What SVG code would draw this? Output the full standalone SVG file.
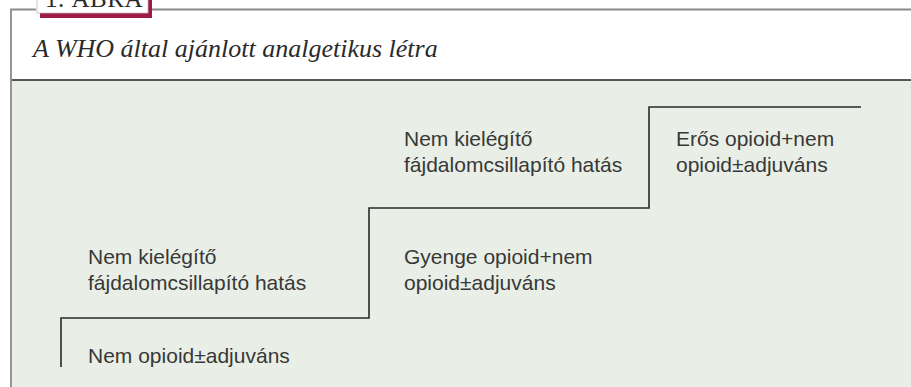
<svg xmlns="http://www.w3.org/2000/svg" width="911" height="387" viewBox="0 0 911 387">
  <style>
    .frame { fill: none; stroke: #8a8a8a; stroke-width: 1.8; }
    .step { fill: none; stroke: #2a2a2a; stroke-width: 1.6; }
    .lbl { font-family: "Liberation Sans", Arial, sans-serif; font-size: 21px; fill: #383838; }
    .title { font-family: "Liberation Serif", "Times New Roman", serif; font-style: italic; font-size: 26px; fill: #2a2a2a; }
    .tag { font-family: "Liberation Serif", "Times New Roman", serif; font-size: 25px; fill: #2a2a2a; letter-spacing: 0.5px; }
  </style>
  <rect x="0" y="0" width="911" height="387" fill="#ffffff"/>
  <g id="panel">
    <rect x="12" y="80" width="899" height="307" fill="#e9efe6"/>
    <line x1="12" y1="80" x2="911" y2="80" stroke="#222222" stroke-width="1.6"/>
  </g>
  <g id="frame">
    <polyline class="frame" points="36,9.5 11,9.5 11,387"/>
    <line class="frame" x1="152" y1="9.5" x2="911" y2="9.5"/>
  </g>
  <g id="tag">
    <rect x="40" y="-20" width="112" height="38" fill="#9e1a4a"/>
    <rect x="37" y="-20" width="111" height="33" fill="#ffffff" stroke="#bbbbbb" stroke-width="0.8"/>
    <text class="tag" x="45" y="7">1. ÁBRA</text>
  </g>
  <g id="title">
    <text class="title" x="33" y="57">A WHO által ajánlott analgetikus létra</text>
  </g>
  <g id="connectors">
    <polyline class="step" points="61,367 61,318 369,318 369,208 649,208 649,107 861,107"/>
  </g>
  <g id="step1">
    <text class="lbl" x="88" y="363">Nem opioid±adjuváns</text>
  </g>
  <g id="fail1">
    <text class="lbl" x="88" y="264">Nem kielégítő</text>
    <text class="lbl" x="88" y="290">fájdalomcsillapító hatás</text>
  </g>
  <g id="step2">
    <text class="lbl" x="404" y="264">Gyenge opioid+nem</text>
    <text class="lbl" x="404" y="290">opioid±adjuváns</text>
  </g>
  <g id="fail2">
    <text class="lbl" x="404" y="146">Nem kielégítő</text>
    <text class="lbl" x="404" y="172">fájdalomcsillapító hatás</text>
  </g>
  <g id="step3">
    <text class="lbl" x="676" y="146">Erős opioid+nem</text>
    <text class="lbl" x="676" y="172">opioid±adjuváns</text>
  </g>
</svg>
